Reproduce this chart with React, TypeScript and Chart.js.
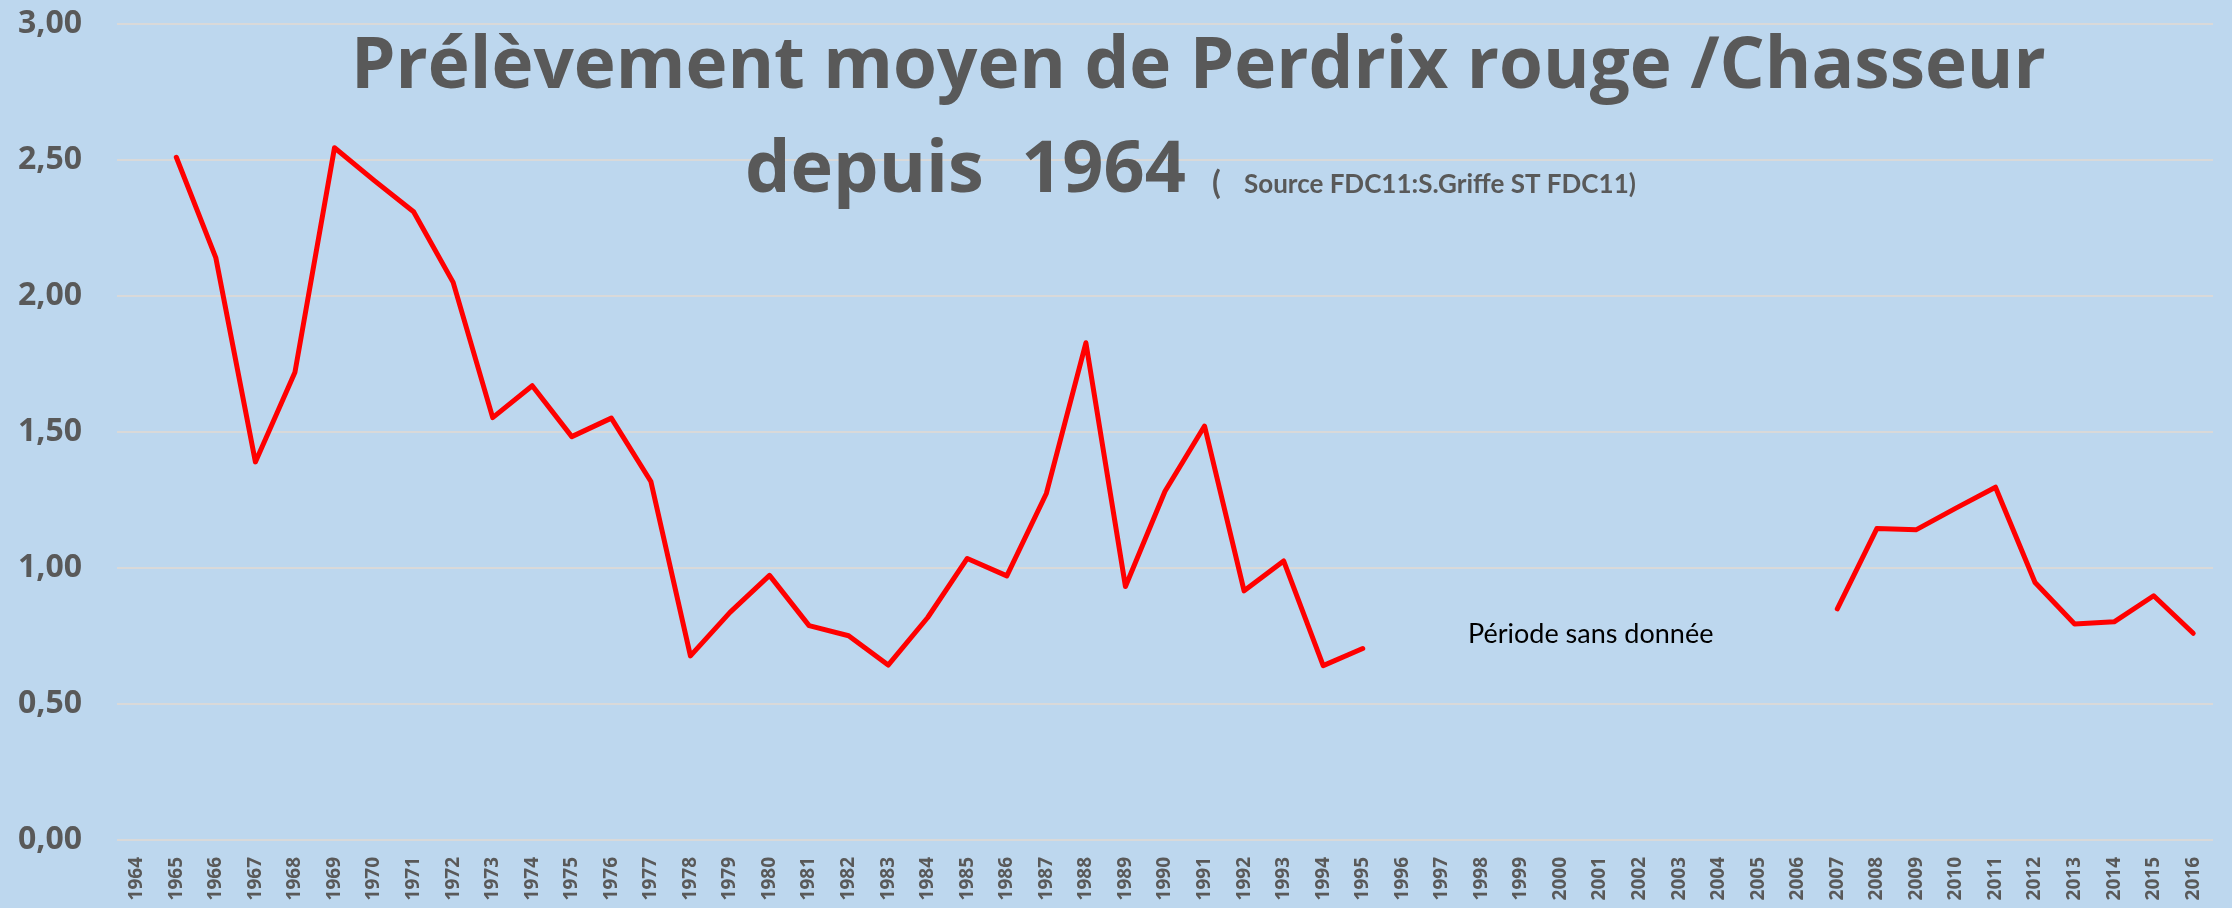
import React, { useEffect, useRef } from "react";
import { Chart, registerables } from "chart.js";

Chart.register(...registerables);

const YEARS = [
  "1964", "1965", "1966", "1967", "1968", "1969", "1970", "1971", "1972", "1973",
  "1974", "1975", "1976", "1977", "1978", "1979", "1980", "1981", "1982", "1983",
  "1984", "1985", "1986", "1987", "1988", "1989", "1990", "1991", "1992", "1993",
  "1994", "1995", "1996", "1997", "1998", "1999", "2000", "2001", "2002", "2003",
  "2004", "2005", "2006", "2007", "2008", "2009", "2010", "2011", "2012", "2013",
  "2014", "2015", "2016",
];

const PRELEVEMENT: (number | null)[] = [
  null, 2.51, 2.14, 1.39, 1.72, 2.545, 2.425, 2.31, 2.05, 1.553,
  1.67, 1.483, 1.551, 1.318, 0.677, 0.837, 0.973, 0.788, 0.751, 0.643,
  0.818, 1.035, 0.971, 1.274, 1.828, 0.932, 1.282, 1.522, 0.916, 1.026,
  0.641, 0.704, null, null, null, null, null, null, null, null,
  null, null, null, 0.85, 1.145, 1.141, 1.22, 1.297, 0.947, 0.794,
  0.802, 0.898, 0.76,
];

const TITLE_LINE1 = "Prélèvement moyen de Perdrix rouge /Chasseur";
const TITLE_LINE2 = "depuis  1964";
const TITLE_PAREN = "(";
const TITLE_SOURCE = "Source FDC11:S.Griffe ST FDC11)";
const NOTE = "Période sans donnée";

const GREY = "#595959";
const BG = "#BDD7EE";

const titlePlugin = {
  id: "customTitle",
  beforeDraw(chart: any) {
    const ctx = chart.ctx;
    ctx.save();
    ctx.fillStyle = BG;
    ctx.fillRect(0, 0, chart.width, chart.height);
    ctx.restore();
  },
  afterDraw(chart: any) {
    const ctx = chart.ctx;
    ctx.save();
    ctx.fillStyle = GREY;
    ctx.textBaseline = "alphabetic";
    ctx.textAlign = "left";
    ctx.font = "bold 71px 'Open Sans'";
    ctx.fillText(TITLE_LINE1, 351, 88);
    ctx.font = "bold 72px 'Open Sans'";
    ctx.fillText(TITLE_LINE2, 745, 192);
    ctx.font = "bold 32px Lato";
    ctx.fillText(TITLE_PAREN, 1212, 194);
    ctx.font = "bold 26px Lato";
    ctx.fillText(TITLE_SOURCE, 1244, 193);

    const xs = chart.scales.x;
    const ys = chart.scales.y;
    ctx.fillStyle = "#000000";
    ctx.font = "27px Lato";
    ctx.fillText(NOTE, xs.getPixelForValue(33.66), ys.getPixelForValue(0.725));
    ctx.restore();
  },
};

export default function App() {
  const ref = useRef<HTMLCanvasElement | null>(null);

  useEffect(() => {
    if (!ref.current) return;
    const chart = new Chart(ref.current, {
      type: "line",
      data: {
        labels: YEARS,
        datasets: [
          {
            data: PRELEVEMENT,
            borderColor: "#FF0000",
            backgroundColor: "#FF0000",
            borderWidth: 5,
            pointRadius: 0,
            pointHoverRadius: 0,
            borderCapStyle: "round",
            borderJoinStyle: "round",
            tension: 0,
            spanGaps: false,
          },
        ],
      },
      options: {
        animation: false,
        responsive: false,
        events: [],
        layout: { padding: { top: 24, right: 19, left: 0, bottom: 0 } },
        plugins: {
          legend: { display: false },
          title: { display: false },
          tooltip: { enabled: false },
        },
        scales: {
          x: {
            offset: true,
            grid: { display: false, drawTicks: false },
            border: { display: false },
            ticks: {
              autoSkip: false,
              minRotation: 90,
              maxRotation: 90,
              padding: 17,
              color: GREY,
              font: { family: "'Open Sans'", weight: "bold", size: 19 },
            },
            afterFit: (s: any) => {
              s.height = 68;
              s.paddingLeft = 0;
              s.paddingRight = 0;
            },
          },
          y: {
            min: 0,
            max: 3,
            grid: { color: "#D9D9D9", lineWidth: 2, drawTicks: false },
            border: { display: false },
            ticks: {
              stepSize: 0.5,
              padding: 35,
              color: GREY,
              font: { family: "'Open Sans'", weight: "bold", size: 32 },
              callback: (v: any) => Number(v).toFixed(2).replace(".", ","),
            },
            afterFit: (s: any) => {
              s.width = 117;
              s.paddingTop = 0;
              s.paddingBottom = 0;
            },
          },
        },
      },
      plugins: [titlePlugin],
    });
    return () => chart.destroy();
  }, []);

  return (
    <div style={{ position: "absolute", left: 0, top: 0, width: 2232, height: 908, background: BG }}>
      <canvas ref={ref} width={2232} height={908} style={{ display: "block" }} />
    </div>
  );
}
